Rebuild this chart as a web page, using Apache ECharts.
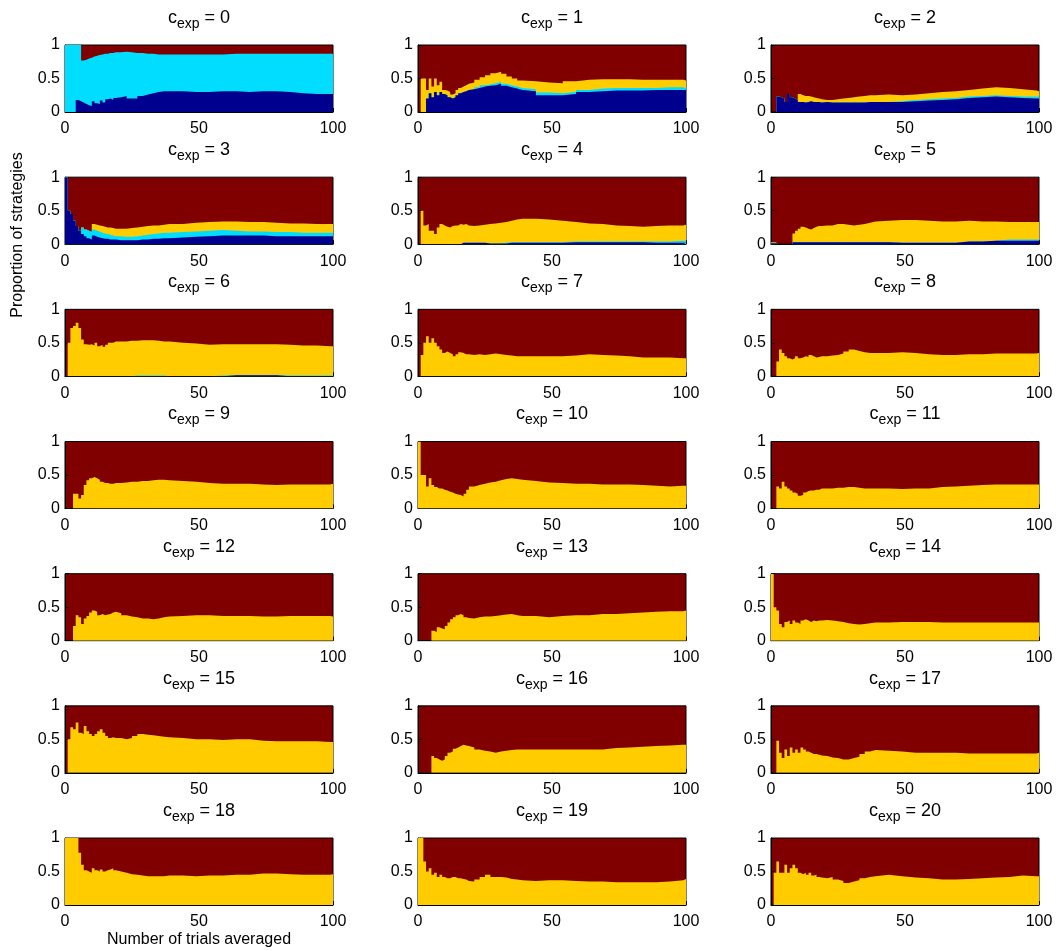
<!DOCTYPE html>
<html><head><meta charset="utf-8">
<script src="https://cdn.jsdelivr.net/npm/echarts@6/dist/echarts.min.js"></script>
<style>html,body{margin:0;padding:0;background:#fff}#c{width:1056px;height:951px}</style>
</head><body><div id="c"></div>
<script>
// trial numbers at which proportions were read (value holds until next sampled trial)
const TRIALS = [1,2,3,4,5,6,7,8,9,10, 11,12,13,14,15,16,17,18,19,20, 22,24,26,28,30,32,34,36,38,40, 45,50,55,60,65,70,75,80,85,90,95,100];
const C_EXP = [0,1,2,3,4,5,6,7,8,9,10,11,12,13,14,15,16,17,18,19,20];
const X_TICKS = [0, 50, 100];
const Y_TICKS = [0, 0.5, 1];

// cumulative proportion (upper edge) of strategy 1 (dark blue), strategies 1-2 (+cyan), strategies 1-3 (+yellow)
const BLUE_TOP = [
  [0,0,0,0,0.18,0.16,0.14,0.12,0.10,0.09, 0.16,0.13,0.12,0.17,0.14,0.19,0.20,0.18,0.21,0.22, 0.24,0.20,0.20,0.24,0.26,0.28,0.30,0.31,0.31,0.31, 0.30,0.30,0.31,0.31,0.30,0.31,0.31,0.30,0.28,0.27,0.27,0.27],
  [0,0,0,0.20,0.28,0.22,0.30,0.25,0.30,0.27, 0.25,0.22,0.20,0.22,0.25,0.28,0.30,0.31,0.33,0.34, 0.36,0.38,0.39,0.40,0.42,0.39,0.37,0.35,0.33,0.31, 0.25,0.25,0.27,0.30,0.31,0.32,0.32,0.32,0.33,0.33,0.33,0.33],
  [0,0,0.23,0.22,0.20,0.15,0.27,0.22,0.20,0.18, 0.15,0.15,0.14,0.15,0.16,0.15,0.15,0.15,0.14,0.15, 0.14,0.14,0.14,0.14,0.14,0.14,0.14,0.15,0.15,0.15, 0.15,0.16,0.17,0.18,0.19,0.21,0.22,0.23,0.22,0.21,0.20,0.20],
  [1.00,0.50,0.45,0.35,0.27,0.20,0.15,0.12,0.09,0.07, 0.13,0.11,0.10,0.09,0.08,0.08,0.07,0.07,0.07,0.06, 0.06,0.06,0.06,0.07,0.07,0.08,0.08,0.09,0.09,0.10, 0.11,0.12,0.13,0.13,0.13,0.13,0.12,0.12,0.12,0.12,0.12,0.12],
  [0,0,0,0,0,0,0,0,0,0, 0,0,0,0,0,0,0.02,0.02,0.02,0.02, 0.02,0.02,0.01,0.01,0.01,0.01,0.02,0.02,0.02,0.02, 0.02,0.02,0.03,0.03,0.03,0.03,0.03,0.03,0.02,0.02,0.02,0.02],
  [0.015,0.015,0,0,0,0,0,0,0.03,0.03, 0.03,0.03,0.03,0.03,0.03,0.03,0.03,0.03,0.03,0.03, 0.03,0.03,0.03,0.03,0.03,0.03,0.03,0.03,0.03,0.03, 0.02,0.02,0.02,0.02,0.02,0.04,0.04,0.05,0.05,0.05,0.05,0.05],
  [0,0,0,0,0,0,0,0,0,0, 0,0,0,0,0,0,0,0,0,0, 0,0,0,0,0,0,0,0,0,0, 0,0,0,0.015,0.015,0.015,0.015,0,0,0,0,0],
  null,null,null,null,null,null,null,null,null,null,null,null,null,null
];
const CYAN_TOP = [
  [1,1,1,1,1,1,0.77,0.78,0.80,0.81, 0.83,0.84,0.85,0.86,0.87,0.87,0.88,0.88,0.89,0.89, 0.90,0.89,0.88,0.88,0.87,0.87,0.86,0.86,0.86,0.86, 0.86,0.86,0.86,0.87,0.87,0.87,0.87,0.87,0.87,0.87,0.87,0.87],
  [0,0,0,0.20,0.28,0.22,0.30,0.25,0.30,0.27, 0.25,0.22,0.20,0.22,0.25,0.28,0.30,0.31,0.33,0.34, 0.37,0.40,0.41,0.43,0.45,0.42,0.40,0.38,0.36,0.34, 0.29,0.28,0.30,0.33,0.35,0.36,0.36,0.36,0.36,0.37,0.37,0.36],
  [0,0,0.23,0.22,0.20,0.15,0.27,0.22,0.20,0.18, 0.15,0.15,0.14,0.15,0.16,0.15,0.15,0.15,0.14,0.15, 0.14,0.14,0.14,0.14,0.14,0.14,0.14,0.15,0.15,0.15, 0.16,0.18,0.19,0.20,0.21,0.23,0.24,0.25,0.24,0.23,0.23,0.23],
  [1.00,0.50,0.45,0.35,0.27,0.20,0.25,0.22,0.20,0.18, 0.22,0.20,0.19,0.17,0.16,0.15,0.14,0.13,0.12,0.12, 0.11,0.11,0.12,0.13,0.14,0.15,0.16,0.17,0.17,0.18, 0.19,0.20,0.21,0.20,0.19,0.19,0.18,0.18,0.17,0.17,0.17,0.17],
  [0,0,0,0,0,0,0,0,0,0, 0,0,0,0,0,0,0.02,0.02,0.02,0.02, 0.02,0.02,0.01,0.01,0.01,0.02,0.03,0.03,0.03,0.03, 0.03,0.03,0.04,0.04,0.04,0.04,0.04,0.04,0.04,0.04,0.05,0.05],
  [0.015,0.015,0,0,0,0,0,0,0.03,0.03, 0.03,0.03,0.03,0.03,0.03,0.03,0.03,0.03,0.03,0.03, 0.03,0.03,0.03,0.03,0.03,0.03,0.03,0.03,0.03,0.03, 0.02,0.02,0.02,0.02,0.02,0.04,0.04,0.05,0.07,0.07,0.07,0.07],
  [0,0,0,0,0,0,0,0,0,0, 0,0,0,0,0,0,0,0,0,0, 0,0,0.012,0.012,0.012,0.012,0.012,0.012,0,0, 0,0,0.012,0.015,0.015,0.015,0.015,0.012,0.012,0.012,0.012,0.012],
  null,null,null,null,null,null,null,null,null,null,null,null,null,null
];
const YELLOW_TOP = [
  null,
  [0,0.50,0.50,0.33,0.50,0.38,0.50,0.40,0.45,0.33, 0.32,0.30,0.26,0.28,0.33,0.36,0.38,0.40,0.42,0.44, 0.48,0.52,0.55,0.58,0.60,0.57,0.53,0.50,0.47,0.46, 0.44,0.43,0.46,0.48,0.49,0.49,0.49,0.48,0.48,0.48,0.48,0.47],
  [0,0,0.23,0.22,0.20,0.15,0.27,0.22,0.20,0.18, 0.27,0.25,0.24,0.24,0.23,0.22,0.21,0.20,0.19,0.18, 0.18,0.19,0.20,0.21,0.22,0.23,0.24,0.25,0.25,0.26, 0.25,0.26,0.28,0.30,0.31,0.33,0.35,0.37,0.36,0.34,0.32,0.31],
  [1.00,0.50,0.45,0.35,0.27,0.20,0.25,0.22,0.20,0.18, 0.30,0.29,0.28,0.27,0.26,0.25,0.25,0.24,0.23,0.23, 0.23,0.24,0.25,0.26,0.27,0.28,0.28,0.29,0.30,0.30, 0.32,0.33,0.34,0.34,0.33,0.33,0.32,0.31,0.31,0.30,0.30,0.30],
  [0,0.50,0.28,0.30,0.20,0.20,0.15,0.25,0.30,0.28, 0.26,0.25,0.27,0.28,0.28,0.30,0.29,0.30,0.28,0.27, 0.28,0.29,0.30,0.31,0.32,0.33,0.35,0.37,0.38,0.38, 0.37,0.35,0.33,0.31,0.30,0.28,0.27,0.26,0.27,0.28,0.28,0.29],
  [0.03,0.03,0,0,0,0,0,0,0.16,0.20, 0.23,0.26,0.25,0.23,0.22,0.24,0.26,0.27,0.27,0.28, 0.28,0.30,0.30,0.29,0.28,0.29,0.30,0.32,0.34,0.35, 0.36,0.36,0.35,0.34,0.34,0.35,0.34,0.34,0.33,0.33,0.33,0.33],
  [0,0.50,0.72,0.75,0.80,0.72,0.55,0.48,0.47,0.48, 0.46,0.50,0.45,0.47,0.44,0.47,0.50,0.50,0.52,0.52, 0.52,0.53,0.53,0.54,0.54,0.54,0.53,0.52,0.52,0.50, 0.49,0.47,0.48,0.48,0.48,0.48,0.48,0.47,0.46,0.46,0.45,0.45],
  [0,0.32,0.50,0.60,0.50,0.57,0.50,0.45,0.40,0.35, 0.37,0.35,0.33,0.30,0.33,0.36,0.35,0.33,0.33,0.32, 0.33,0.32,0.33,0.34,0.33,0.32,0.31,0.30,0.30,0.30, 0.30,0.30,0.31,0.33,0.32,0.31,0.30,0.28,0.28,0.28,0.27,0.27],
  [0,0,0.22,0.40,0.35,0.30,0.27,0.25,0.27,0.30, 0.27,0.28,0.30,0.29,0.32,0.30,0.28,0.29,0.30,0.30, 0.31,0.32,0.34,0.37,0.40,0.38,0.36,0.35,0.35,0.35, 0.36,0.35,0.33,0.32,0.32,0.33,0.33,0.34,0.34,0.34,0.34,0.35],
  [0,0,0,0.22,0.22,0.15,0.20,0.35,0.42,0.45, 0.47,0.45,0.43,0.40,0.38,0.38,0.37,0.37,0.38,0.38, 0.39,0.40,0.40,0.41,0.41,0.42,0.43,0.43,0.42,0.41, 0.40,0.38,0.37,0.37,0.37,0.36,0.35,0.36,0.36,0.36,0.36,0.37],
  [1.00,0.50,0.50,0.33,0.45,0.35,0.32,0.30,0.30,0.28, 0.27,0.25,0.24,0.22,0.21,0.20,0.18,0.22,0.28,0.33, 0.35,0.37,0.39,0.40,0.42,0.44,0.45,0.44,0.43,0.41, 0.39,0.38,0.37,0.37,0.36,0.36,0.36,0.35,0.34,0.33,0.34,0.34],
  [0,0,0.33,0.30,0.40,0.33,0.30,0.27,0.24,0.22, 0.19,0.20,0.24,0.26,0.27,0.27,0.28,0.28,0.30,0.30, 0.30,0.31,0.31,0.32,0.32,0.31,0.30,0.30,0.30,0.30, 0.29,0.30,0.30,0.32,0.33,0.34,0.35,0.36,0.36,0.36,0.36,0.36],
  [0,0,0,0.22,0.38,0.35,0.25,0.33,0.37,0.42, 0.45,0.43,0.38,0.40,0.38,0.39,0.40,0.42,0.43,0.41, 0.38,0.36,0.35,0.33,0.33,0.32,0.33,0.35,0.36,0.37, 0.38,0.38,0.37,0.37,0.37,0.36,0.36,0.37,0.37,0.37,0.37,0.36],
  [0,0,0,0,0,0.15,0.13,0.20,0.18,0.17, 0.22,0.27,0.32,0.35,0.38,0.40,0.38,0.35,0.34,0.33, 0.35,0.36,0.36,0.37,0.38,0.39,0.40,0.38,0.37,0.37, 0.35,0.37,0.38,0.38,0.40,0.40,0.41,0.42,0.43,0.44,0.44,0.45],
  [1.00,0.50,0.45,0.25,0.20,0.28,0.30,0.25,0.30,0.27, 0.25,0.30,0.32,0.30,0.28,0.30,0.29,0.30,0.30,0.31, 0.30,0.29,0.28,0.26,0.25,0.24,0.25,0.26,0.27,0.27, 0.28,0.28,0.28,0.27,0.27,0.27,0.27,0.27,0.27,0.27,0.27,0.27],
  [0,0.50,0.68,0.65,0.75,0.60,0.58,0.70,0.62,0.58, 0.55,0.58,0.62,0.65,0.60,0.55,0.52,0.53,0.52,0.52, 0.50,0.52,0.55,0.58,0.57,0.56,0.55,0.54,0.53,0.52, 0.50,0.50,0.49,0.50,0.50,0.48,0.47,0.47,0.47,0.47,0.46,0.46],
  [0,0,0,0,0,0.25,0.22,0.20,0.18,0.20, 0.25,0.30,0.32,0.36,0.38,0.40,0.42,0.41,0.40,0.38, 0.35,0.33,0.32,0.30,0.32,0.33,0.34,0.35,0.35,0.35, 0.35,0.35,0.35,0.35,0.35,0.37,0.38,0.39,0.40,0.41,0.42,0.42],
  [0,0,0.48,0.30,0.22,0.35,0.25,0.38,0.30,0.35, 0.30,0.38,0.35,0.32,0.30,0.28,0.28,0.27,0.26,0.25, 0.23,0.22,0.20,0.20,0.22,0.24,0.28,0.32,0.34,0.33, 0.32,0.30,0.30,0.30,0.30,0.29,0.29,0.29,0.29,0.29,0.29,0.30],
  [1,1,1,1,1,0.78,0.60,0.52,0.50,0.48, 0.55,0.52,0.50,0.53,0.50,0.52,0.53,0.55,0.52,0.50, 0.48,0.46,0.45,0.44,0.43,0.43,0.43,0.43,0.44,0.44, 0.43,0.44,0.44,0.45,0.45,0.47,0.47,0.46,0.45,0.45,0.45,0.46],
  [1,1,0.65,0.50,0.55,0.45,0.48,0.42,0.45,0.42, 0.40,0.40,0.42,0.42,0.40,0.40,0.39,0.38,0.36,0.35, 0.38,0.42,0.45,0.42,0.42,0.41,0.39,0.38,0.37,0.36, 0.37,0.37,0.36,0.35,0.35,0.34,0.34,0.34,0.34,0.35,0.37,0.39],
  [0,0.48,0.65,0.48,0.48,0.60,0.48,0.55,0.60,0.55, 0.48,0.46,0.48,0.45,0.48,0.44,0.45,0.42,0.41,0.40, 0.42,0.38,0.36,0.33,0.35,0.37,0.40,0.42,0.43,0.45, 0.43,0.41,0.40,0.38,0.38,0.39,0.40,0.41,0.42,0.44,0.43,0.43]
];

const COLORS = { blue: '#00008F', cyan: '#00DDFF', yellow: '#FFCC00', red: '#800000' };
const FONT = "'Liberation Sans', Arial, Helvetica, sans-serif";
const COL_LEFT = [65, 418, 771];
const PLOT_W = 268, PLOT_H = 67, ROW_TOP0 = 45, ROW_STEP = 132.17;

function toSteps(vals) {
  const pts = TRIALS.map((t, k) => [t - 1, vals[k]]);
  pts.push([100, vals[vals.length - 1]]);
  return pts;
}

const grids = [], xAxes = [], yAxes = [], series = [], graphics = [];
C_EXP.forEach((c, i) => {
  const col = i % 3, row = Math.floor(i / 3);
  const left = COL_LEFT[col], top = ROW_TOP0 + row * ROW_STEP;
  grids.push({ left, top, width: PLOT_W, height: PLOT_H, show: true,
    backgroundColor: COLORS.red, borderColor: '#000', borderWidth: 1, outerBoundsMode: 'none' });
  xAxes.push({ gridIndex: i, type: 'value', min: X_TICKS[0], max: X_TICKS[2], interval: X_TICKS[1] - X_TICKS[0],
    axisLine: { show: true, onZero: false, lineStyle: { color: '#000', width: 1 } },
    axisTick: { show: true, inside: true, length: 4, lineStyle: { color: '#000' } },
    axisLabel: { fontSize: 16, color: '#000', fontFamily: FONT, margin: 9 },
    splitLine: { show: false } });
  yAxes.push({ gridIndex: i, type: 'value', min: Y_TICKS[0], max: Y_TICKS[2], interval: Y_TICKS[1] - Y_TICKS[0],
    axisLine: { show: true, onZero: false, lineStyle: { color: '#000', width: 1 } },
    axisTick: { show: true, inside: true, length: 4, lineStyle: { color: '#000' } },
    axisLabel: { fontSize: 16, color: '#000', fontFamily: FONT, margin: 5 },
    splitLine: { show: false } });
  const layers = [['yellow', YELLOW_TOP[i]], ['cyan', CYAN_TOP[i]], ['blue', BLUE_TOP[i]]];
  layers.forEach(([k, vals], j) => {
    if (!vals) return;
    series.push({ type: 'line', xAxisIndex: i, yAxisIndex: i, step: 'end', data: toSteps(vals),
      showSymbol: false, symbol: 'none', silent: true, z: 2 + j,
      lineStyle: { width: 0, color: COLORS[k] },
      areaStyle: { color: COLORS[k], opacity: 1, origin: 'start' } });
  });
  graphics.push({ type: 'text', x: left + PLOT_W / 2, y: top - 27, silent: true,
    style: { text: '{m|c}{s|exp}{m| = ' + c + '}', align: 'center', verticalAlign: 'middle',
      rich: { m: { fontSize: 18, fontFamily: FONT, fill: '#000' },
              s: { fontSize: 14, fontFamily: FONT, fill: '#000', padding: [12, 0, 0, 0] } } } });
});

graphics.push({ type: 'text', x: 18, y: 235, rotation: Math.PI / 2, silent: true,
  style: { text: 'Proportion of strategies', fontSize: 16, fontFamily: FONT, fill: '#000', align: 'center', verticalAlign: 'middle' } });
graphics.push({ type: 'text', x: 199, y: 940, silent: true,
  style: { text: 'Number of trials averaged', fontSize: 16, fontFamily: FONT, fill: '#000', align: 'center', verticalAlign: 'middle' } });

const chart = echarts.init(document.getElementById('c'));
chart.setOption({ animation: false, backgroundColor: '#fff', grid: grids, xAxis: xAxes, yAxis: yAxes, series, graphic: graphics });
</script></body></html>
